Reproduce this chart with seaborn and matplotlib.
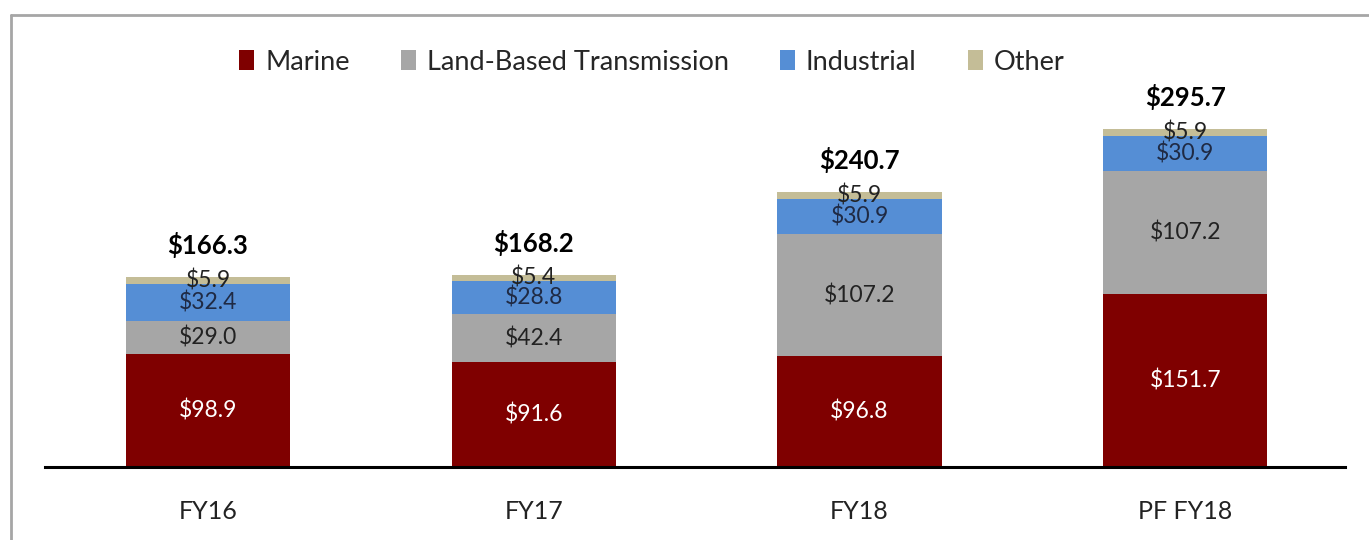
import matplotlib
matplotlib.use("Agg")
import matplotlib.pyplot as plt
from matplotlib.patches import Patch
from matplotlib.lines import Line2D
import seaborn as sns
import pandas as pd
import numpy as np

categories = ["FY16", "FY17", "FY18", "PF FY18"]
marine = [98.9, 91.6, 96.8, 151.7]
land_based = [29.0, 42.4, 107.2, 107.2]
industrial = [32.4, 28.8, 30.9, 30.9]
other = [5.9, 5.4, 5.9, 5.9]
totals = [166.3, 168.2, 240.7, 295.7]

series_names = ["Marine", "Land-Based Transmission", "Industrial", "Other"]
series_values = [marine, land_based, industrial, other]
colors = ["#7F0000", "#A6A6A6", "#558ED5", "#C4BD97"]
label_colors = ["white", "#222222", "#1F2A44", "#222222"]

sns.set_theme(style="white")
plt.rcParams["font.family"] = ["Lato", "DejaVu Sans"]

fig = plt.figure(figsize=(13.69, 5.40), dpi=100)
ax = fig.add_axes([45 / 1369, 1 - 467 / 540, 1300 / 1369, 440 / 540])

arr = np.array(series_values)
cum = np.cumsum(arr, axis=0)

# draw cumulative heights from top layer down so that lower layers cover
for i in range(len(series_names) - 1, -1, -1):
    df = pd.DataFrame({"cat": categories, "val": cum[i]})
    sns.barplot(data=df, x="cat", y="val", color=colors[i], width=0.504,
                saturation=1, ax=ax, linewidth=0, errorbar=None)

# segment labels
for i in range(len(series_names)):
    for j in range(len(categories)):
        bottom = cum[i][j] - arr[i][j]
        ax.text(j, bottom + arr[i][j] / 2, f"${arr[i][j]:.1f}", ha="center",
                va="center", fontsize=16.5, color=label_colors[i])

# totals
for j, t in enumerate(totals):
    ax.annotate(f"${t:.1f}", xy=(j, cum[-1][j]), xytext=(0, 23),
                textcoords="offset points", ha="center", va="center",
                fontsize=18.5, fontweight="bold", color="black")

ax.set_xlim(-0.5, 3.49)
ax.set_ylim(0, 440 / 1.143)
ax.set_xlabel("")
ax.set_ylabel("")
ax.set_yticks([])
for s in ["top", "right", "left"]:
    ax.spines[s].set_visible(False)
ax.spines["bottom"].set_color("black")
ax.spines["bottom"].set_linewidth(2.2)
ax.tick_params(axis="x", length=0, pad=24, labelsize=18, colors="#222222")

handles = [Patch(facecolor=c, edgecolor="none") for c in colors]
fig.legend(handles, series_names, loc="center", bbox_to_anchor=(652 / 1369, 1 - 62 / 540),
           ncol=4, frameon=False, fontsize=19.5, handlelength=0.55, handleheight=0.8,
           handletextpad=0.4, columnspacing=1.9)

# outer frame (left and top edges)
fig.add_artist(Line2D([11 / 1369, 11 / 1369], [0, 1 - 15 / 540], transform=fig.transFigure,
                      color="#A6A6A6", lw=2))
fig.add_artist(Line2D([11 / 1369, 1], [1 - 15 / 540, 1 - 15 / 540], transform=fig.transFigure,
                      color="#A6A6A6", lw=2))

fig.savefig("out.png", dpi=100)
